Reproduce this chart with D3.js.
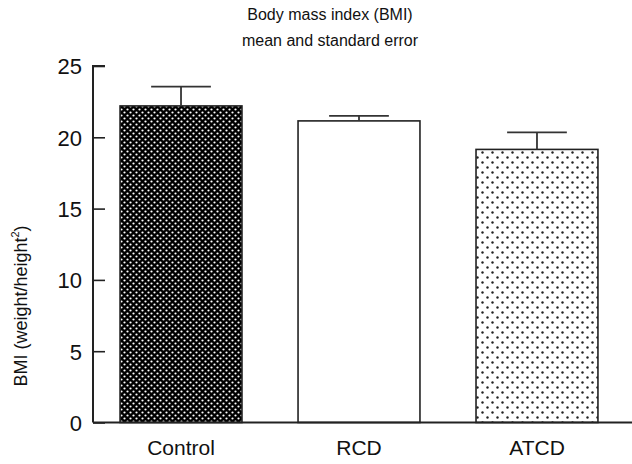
<!DOCTYPE html>
<html><head><meta charset="utf-8">
<script src="https://cdn.jsdelivr.net/npm/d3@7/dist/d3.min.js"></script>
<style>body{margin:0;background:#fff}svg{display:block}text{font-family:"Liberation Sans",Arial,sans-serif;fill:#111}</style>
</head><body><svg id="c" width="632" height="464"></svg>
<script>
const categories = ["Control", "RCD", "ATCD"];
const means = [22.2, 21.15, 19.15];
const errors = [1.35, 0.35, 1.2];
const yTicks = [0, 5, 10, 15, 20, 25];
const titleLines = ["Body mass index (BMI)", "mean and standard error"];

const svg = d3.select("#c");
const defs = svg.append("defs");
const p1 = defs.append("pattern").attr("id","pDark").attr("patternUnits","userSpaceOnUse").attr("width",6).attr("height",6);
p1.append("rect").attr("width",6).attr("height",6).attr("fill","#000");
p1.append("circle").attr("cx",1.5).attr("cy",1.5).attr("r",1.1).attr("fill","#fff");
p1.append("circle").attr("cx",4.5).attr("cy",4.5).attr("r",1.1).attr("fill","#fff");
const p2 = defs.append("pattern").attr("id","pLight").attr("patternUnits","userSpaceOnUse").attr("width",10).attr("height",10);
p2.append("rect").attr("width",10).attr("height",10).attr("fill","#fff");
p2.append("circle").attr("cx",2.5).attr("cy",2.5).attr("r",1.2).attr("fill","#222");
p2.append("circle").attr("cx",7.5).attr("cy",7.5).attr("r",1.2).attr("fill","#222");
const fills = ["url(#pDark)", "#fff", "url(#pLight)"];

const x0 = 93, yTop = 66, yBot = 422.5;
const x = d3.scaleBand().domain(categories).range([x0, 625]).paddingInner(0.315).paddingOuter(0.152);
const y = d3.scaleLinear().domain([0, 25]).range([yBot, yTop]);

const gy = svg.append("g").attr("transform",`translate(${x0},0)`)
  .call(d3.axisRight(y).tickValues(yTicks).tickSize(12).tickFormat(d3.format("d")));
gy.select(".domain").attr("stroke","#222").attr("stroke-width",2).attr("d",`M12,${yTop}H0V${yBot}`);
gy.selectAll(".tick line").attr("stroke","#222").attr("stroke-width",1.6);
gy.selectAll(".tick text").attr("x",-11).attr("text-anchor","end").attr("font-size",22).attr("dy","0.36em").style("fill","#111");

svg.selectAll("rect.bar").data(categories).join("rect").attr("class","bar")
  .attr("x", d => x(d)).attr("width", x.bandwidth())
  .attr("y", (d,i) => y(means[i])).attr("height", (d,i) => y(0) - y(means[i]))
  .attr("fill", (d,i) => fills[i]).attr("stroke","#222").attr("stroke-width",1.6);

const capW = x.bandwidth() * 0.49;
categories.forEach((c,i) => {
  const cx = x(c) + x.bandwidth()/2;
  svg.append("line").attr("x1",cx).attr("x2",cx).attr("y1",y(means[i])).attr("y2",y(means[i]+errors[i])).attr("stroke","#333").attr("stroke-width",1.8);
  svg.append("line").attr("x1",cx-capW/2).attr("x2",cx+capW/2).attr("y1",y(means[i]+errors[i])).attr("y2",y(means[i]+errors[i])).attr("stroke","#333").attr("stroke-width",1.8);
});

const gx = svg.append("g").attr("transform",`translate(0,${yBot})`)
  .call(d3.axisBottom(x).tickSize(0).tickPadding(18));
gx.select(".domain").attr("stroke","#222").attr("stroke-width",2).attr("d",`M${x0},0H632`);
gx.selectAll(".tick text").attr("font-size",21).style("fill","#111");

svg.append("g").selectAll("text").data(titleLines).join("text")
  .attr("x",330).attr("y",(d,i)=>20+i*26).attr("text-anchor","middle").attr("font-size",16).text(d=>d);

const yl = svg.append("text").attr("transform","translate(27,306) rotate(-90)").attr("text-anchor","middle").attr("font-size",18);
yl.append("tspan").text("BMI (weight/height");
yl.append("tspan").attr("font-size",11).attr("dy","-0.7em").text("2");
yl.append("tspan").attr("dy","0.45em").text(")");
</script></body></html>
